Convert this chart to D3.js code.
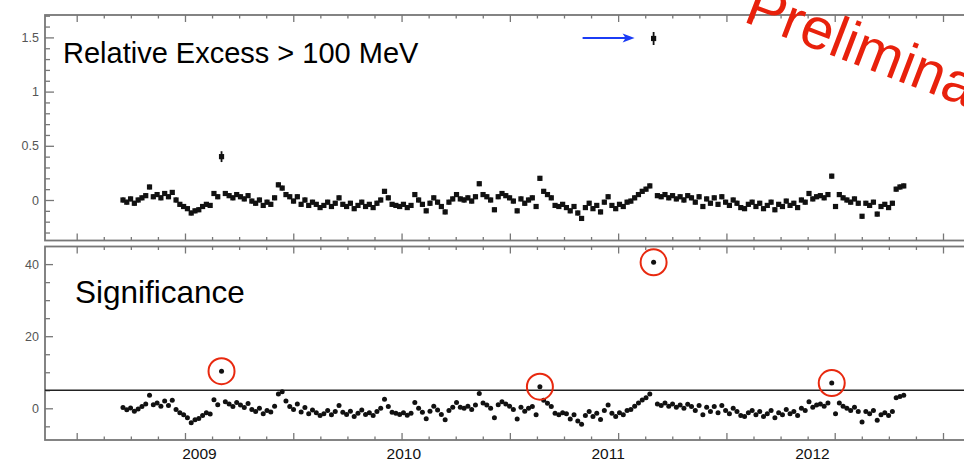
<!DOCTYPE html>
<html><head><meta charset="utf-8">
<script src="https://cdn.jsdelivr.net/npm/d3@7"></script>
<style>body{margin:0;background:#fff}svg{display:block}</style>
</head><body>
<svg id="c" width="964" height="461"></svg>
<script>
// ---- data ----
const startMJD = 54682;      // first weekly bin start (MJD)
const binDays = 7;
const relExcess = [
  0.00,-0.02,0.01,-0.03,0.00,0.02,0.04,0.12,0.03,0.05,
  0.02,0.06,0.03,0.07,0.00,-0.04,-0.06,-0.08,-0.12,-0.10,
  -0.09,-0.06,-0.04,-0.05,0.06,0.03,0.40,0.06,0.04,0.02,
  0.05,0.03,0.01,0.04,-0.01,-0.03,0.00,-0.05,-0.02,-0.04,
  0.02,0.14,0.11,0.05,0.03,-0.01,0.03,-0.04,0.00,-0.05,
  -0.02,-0.04,-0.07,-0.05,-0.02,-0.06,-0.03,0.02,-0.04,-0.06,
  -0.03,-0.08,-0.05,-0.02,-0.06,-0.04,-0.07,-0.03,0.00,0.08,
  0.02,-0.04,-0.05,-0.06,-0.04,-0.07,-0.05,0.05,0.00,-0.04,
  -0.10,-0.03,0.02,-0.02,-0.06,-0.11,-0.02,0.01,0.05,0.01,
  0.00,0.02,-0.01,0.03,0.15,0.05,0.03,0.00,-0.09,0.03,
  0.06,0.04,0.02,-0.01,-0.10,0.01,-0.03,0.00,0.02,-0.06,
  0.20,0.08,0.05,0.02,-0.05,-0.06,-0.04,-0.07,-0.10,-0.06,
  -0.12,-0.17,-0.07,-0.03,-0.08,-0.05,-0.11,-0.02,0.03,-0.05,
  -0.08,-0.04,-0.06,-0.02,-0.01,0.02,0.05,0.08,0.10,0.13,
  1.49,0.04,0.03,0.05,0.02,0.04,0.01,0.03,0.00,0.04,
  0.02,-0.02,0.03,-0.06,0.01,-0.03,0.02,-0.04,0.03,-0.02,
  -0.05,0.00,-0.03,-0.07,-0.08,-0.04,-0.02,-0.06,-0.03,-0.08,
  -0.05,-0.02,-0.09,-0.04,-0.06,-0.01,-0.05,-0.03,-0.07,0.00,
  -0.02,0.06,0.01,0.03,0.04,0.02,0.05,0.22,-0.06,0.05,
  0.02,0.00,-0.02,0.01,-0.03,-0.15,-0.03,-0.05,-0.02,-0.13,
  -0.06,-0.04,-0.07,-0.03,0.10,0.12,0.13
];
const significance = [
  0.2,-0.4,0.1,-0.8,-0.2,0.5,1.2,3.6,1.0,1.5,
  0.6,2.0,0.8,2.2,-0.3,-1.2,-1.8,-2.6,-4.0,-3.2,
  -2.8,-2.0,-1.2,-1.6,2.4,1.0,10.3,1.8,1.2,0.5,
  1.6,0.9,0.2,1.3,-0.3,-0.9,0.0,-1.5,-0.6,-1.0,
  0.6,4.0,4.6,2.0,0.5,-0.3,1.2,-1.0,0.2,-1.5,
  -0.5,-1.2,-2.0,-1.5,-0.6,-1.8,-0.9,0.8,-1.1,-1.7,
  -0.8,-2.3,-1.4,-0.5,-1.7,-1.2,-2.0,-0.9,0.0,2.5,
  0.5,-1.1,-1.4,-1.7,-1.2,-1.9,-1.4,1.6,0.0,-1.1,
  -2.9,-0.8,0.6,-0.5,-1.7,-3.2,-0.6,0.3,1.6,0.3,
  0.0,0.6,-0.3,0.9,4.1,1.5,0.9,0.0,-2.6,1.0,
  1.8,1.2,0.6,-0.3,-3.0,0.3,-0.8,0.0,0.5,-1.8,
  6.0,2.2,1.4,0.5,-1.4,-1.8,-1.2,-1.5,-3.0,-1.8,
  -3.5,-4.4,-2.0,-0.9,-2.3,-1.4,-3.1,-0.6,0.9,-1.4,
  -2.3,-1.2,-1.8,-0.6,-0.3,0.6,1.5,2.3,2.9,4.0,
  40.5,1.2,0.8,1.5,0.6,1.2,0.3,0.9,0.0,1.1,
  0.5,-0.6,0.8,-1.8,0.3,-0.9,0.5,-1.2,0.8,-0.6,
  -1.5,0.0,-0.9,-2.0,-2.3,-1.2,-0.6,-1.8,-0.9,-2.3,
  -1.5,-0.6,-2.6,-1.2,-1.8,-0.3,-1.5,-0.9,-2.0,0.0,
  -0.6,1.8,0.3,0.9,1.2,0.6,1.5,7.0,-1.5,1.5,
  0.6,0.0,-0.6,0.3,-0.9,-3.8,-0.9,-1.5,-0.6,-3.3,
  -1.8,-1.2,-2.0,-0.9,2.9,3.3,3.6
];
const relErrDefault = 0.022;
const relErrLarge = [[26, 0.05], [140, 0.06]];
const relTicks = [0, 0.5, 1, 1.5];
const relTickLabels = ["0", "0.5", "1", "1.5"];
const sigTicks = [0, 20, 40];
const sigTickLabels = ["0", "20", "40"];
const years = [2009, 2010, 2011, 2012];
const yearLabels = ["2009", "2010", "2011", "2012"];
const sigThreshold = 5;
const title1 = "Relative Excess > 100 MeV";
const title2 = "Significance";
const stamp = "Preliminary";

// ---- layout ----
const L = 45, R = 980;
const T1 = 15, B1 = 240.5, T2 = 246.5, B2 = 440;
const frameCol = "#777";
const font = "Liberation Sans, Arial, sans-serif";

const svg = d3.select("#c");
const x = d3.scaleLinear().domain([54600, 56200]).range([76.7, 943]);
const xYear = d3.scaleLinear().domain([2009, 2012]).range([199.5, 812.4]);
const yRel = d3.scaleLinear().domain([0, 1.5]).range([200, 37.4]);
const ySig = d3.scaleLinear().domain([0, 40]).range([408.3, 264.1]);

const mjd = i => startMJD + binDays * i + binDays / 2;
const errMap = new Map(relErrLarge);

// frames
function frame(t, b) {
  svg.append("rect").attr("x", L).attr("y", t).attr("width", R - L).attr("height", b - t)
    .attr("fill", "none").attr("stroke", frameCol).attr("stroke-width", 1.8);
}
frame(T1, B1); frame(T2, B2);

const majX = d3.range(54600, 56201, 200);
const minX = d3.range(54600, 56301, 50).filter(v => majX.indexOf(v) < 0);

function xTicks(yPos, dir) {
  const g = svg.append("g").attr("transform", `translate(0,${yPos})`);
  g.call(d3.axisBottom(x).tickValues(majX).tickSize(7 * dir).tickFormat(""));
  g.call(gg => gg.select(".domain").remove());
  const g2 = svg.append("g").attr("transform", `translate(0,${yPos})`);
  g2.call(d3.axisBottom(x).tickValues(minX).tickSize(3.5 * dir).tickFormat(""));
  g2.call(gg => gg.select(".domain").remove());
  [g, g2].forEach(q => q.selectAll("line").attr("stroke", frameCol).attr("stroke-width", 1.3));
}
xTicks(T1, 1); xTicks(B1, -1); xTicks(T2, 1); xTicks(B2, -1);

function yTicks(scale, major, labels, minor, majLen, minLen) {
  const g = svg.append("g").attr("transform", `translate(${L},0)`);
  g.call(d3.axisLeft(scale).tickValues(major).tickSize(-majLen).tickPadding(6)
    .tickFormat((d, i) => labels[i]));
  g.select(".domain").remove();
  g.selectAll("line").attr("stroke", frameCol).attr("stroke-width", 1.3);
  g.selectAll("text").attr("fill", "#555").attr("font-size", 12.5)
    .attr("font-family", font);
  const g2 = svg.append("g").attr("transform", `translate(${L},0)`);
  g2.call(d3.axisLeft(scale).tickValues(minor).tickSize(-minLen).tickFormat(""));
  g2.select(".domain").remove();
  g2.selectAll("line").attr("stroke", frameCol).attr("stroke-width", 1.3);
}
yTicks(yRel, relTicks, relTickLabels,
  d3.range(-3, 18).map(k => k / 10).filter(v => relTicks.indexOf(v) < 0), 9, 5);
yTicks(ySig, sigTicks, sigTickLabels,
  d3.range(-5, 41, 5).filter(v => sigTicks.indexOf(v) < 0), 8, 5);

// year labels
svg.append("g").selectAll("text").data(years).join("text")
  .attr("x", d => xYear(d)).attr("y", 459)
  .attr("text-anchor", "middle").attr("font-size", 15.5)
  .attr("font-family", font).attr("fill", "#111")
  .text((d, i) => yearLabels[i]);

// threshold line
svg.append("line").attr("x1", L).attr("x2", R)
  .attr("y1", ySig(sigThreshold)).attr("y2", ySig(sigThreshold))
  .attr("stroke", "#222").attr("stroke-width", 1.5);

// top series: squares with error bars
const topG = svg.append("g");
relExcess.forEach((v, i) => {
  const cx = x(mjd(i));
  const e = errMap.has(i) ? errMap.get(i) : relErrDefault;
  topG.append("line").attr("x1", cx).attr("x2", cx)
    .attr("y1", yRel(v - e)).attr("y2", yRel(v + e))
    .attr("stroke", "#111").attr("stroke-width", 1.8);
  topG.append("rect").attr("x", cx - 2.6).attr("y", yRel(v) - 2.6)
    .attr("width", 5.2).attr("height", 5.2).attr("fill", "#111");
});

// bottom series: dots
svg.append("g").selectAll("circle").data(significance).join("circle")
  .attr("cx", (d, i) => x(mjd(i))).attr("cy", d => ySig(d))
  .attr("r", 2.5).attr("fill", "#111");

// red circles around points above threshold
const above = significance.map((v, i) => [v, i]).filter(p => p[0] > sigThreshold);
svg.append("g").selectAll("circle").data(above).join("circle")
  .attr("cx", d => x(mjd(d[1]))).attr("cy", d => ySig(d[0]))
  .attr("r", 13).attr("fill", "none").attr("stroke", "#e8290f").attr("stroke-width", 2);

// blue arrow pointing at the flare in the top panel
const flareIdx = relExcess.indexOf(d3.max(relExcess));
const fx = x(mjd(flareIdx)), fy = yRel(relExcess[flareIdx]);
const tipX = fx - 19, tipY = fy - 0.5;
svg.append("line").attr("x1", tipX - 52).attr("x2", tipX - 8)
  .attr("y1", tipY).attr("y2", tipY).attr("stroke", "#1b3cf5").attr("stroke-width", 2);
svg.append("path")
  .attr("d", `M${tipX},${tipY} L${tipX - 12},${tipY - 4.5} L${tipX - 9},${tipY} L${tipX - 12},${tipY + 4.5} Z`)
  .attr("fill", "#1b3cf5");

// titles
svg.append("text").attr("x", 63).attr("y", 63).attr("font-size", 29)
  .attr("font-family", font).attr("fill", "#000").text(title1);
svg.append("text").attr("x", 75).attr("y", 303).attr("font-size", 31.5)
  .attr("font-family", font).attr("fill", "#000").text(title2);

// Preliminary stamp (cut by the picture edge, as in the reference)
svg.append("text").attr("transform", "translate(742,21) rotate(21)")
  .attr("font-size", 58).attr("font-family", font)
  .attr("fill", "#e8210c").text(stamp);
</script>
</body></html>
